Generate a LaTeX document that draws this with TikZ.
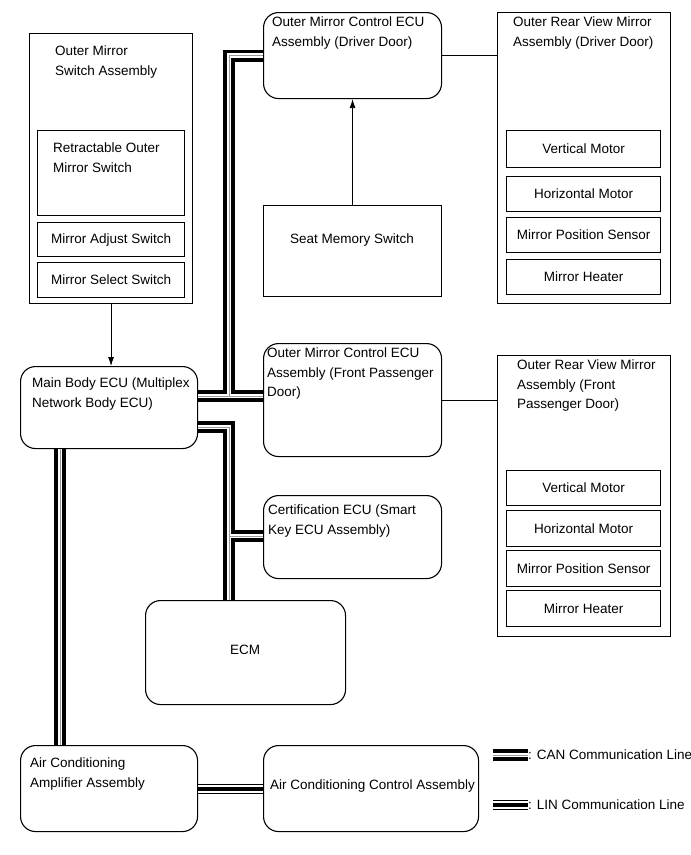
\documentclass[tikz,border=0pt]{standalone}
\usepackage{fontspec}
\setmainfont{Liberation Sans}
\usetikzlibrary{positioning,calc,arrows.meta}
\definecolor{Wire}{HTML}{000000}
\definecolor{Gap}{HTML}{FFFFFF}
\definecolor{Seam}{HTML}{9A9A9A}

\begin{document}
\begin{tikzpicture}[x=1pt,y=-1pt,
    box/.style={draw=Wire,line width=1.1pt,inner sep=0pt,anchor=north west},
    ecu/.style={box,rounded corners=15pt},
    txt/.style={inner sep=0pt,anchor=north west,align=left,font=\fontsize{13.5}{19.5}\selectfont},
    mid/.style={txt,anchor=center,align=center},
    can/.style={line width=12pt,Wire,postaction={draw,Gap,line width=4.2pt},postaction={draw,Seam,line width=.5pt}},
    lin/.style={line width=10pt,Wire,postaction={draw,Gap,line width=8pt},postaction={draw,Wire,line width=4pt}},
    sig/.style={line width=.8pt,Wire},
    tip/.style={-{Latex[length=9pt,width=6pt]}}]
  \useasboundingbox (0,0) rectangle (691,855);

  % switch assembly
  \node[box,minimum width=163,minimum height=270] (sw) at (29,33) {};
  \node[txt] (swt) at (55,46) {Outer Mirror\\Switch Assembly};
  \node[box,minimum width=147,minimum height=85] (ret) at (37,130) {};
  \node[txt] (rett) at (53,143) {Retractable Outer\\Mirror Switch};
  \node[box,minimum width=147,minimum height=34] (adj) at (37,222) {};
  \node[mid] (adjt) at (adj.center) {Mirror Adjust Switch};
  \node[box,minimum width=147,minimum height=35] (sel) at (37,262) {};
  \node[mid] (selt) at (sel.center) {Mirror Select Switch};

  % body ECU and the ECUs on the bus
  \node[ecu,minimum width=177,minimum height=82] (mb) at (20,366) {};
  \node[txt] (mbt) at (32,378) {Main Body ECU (Multiplex\\Network Body ECU)};
  \node[ecu,minimum width=178,minimum height=86] (drv) at (263,12) {};
  \node[txt] (drvt) at (272,17) {Outer Mirror Control ECU\\Assembly (Driver Door)};
  \node[box,minimum width=178,minimum height=91] (seat) at (263,205) {};
  \node[mid] (seatt) at (352,240) {Seat Memory Switch};
  \node[ecu,minimum width=178,minimum height=113] (pdr) at (263,343) {};
  \node[txt] (pdrt) at (267,348) {Outer Mirror Control ECU\\Assembly (Front Passenger\\Door)};
  \node[ecu,minimum width=178,minimum height=83] (cert) at (263,495) {};
  \node[txt] (certt) at (268,505) {Certification ECU (Smart\\Key ECU Assembly)};
  \node[ecu,minimum width=200,minimum height=104] (ecm) at (145,600) {};
  \node[mid] (ecmt) at (245,650) {ECM};
  \node[ecu,minimum width=177,minimum height=86] (acamp) at (20,745) {};
  \node[txt] (acampt) at (30,758) {Air Conditioning\\Amplifier Assembly};
  \node[ecu,minimum width=215,minimum height=86] (acctl) at (263,745) {};
  \node[txt] (acctlt) at (270,780) {Air Conditioning Control Assembly};

  % rear view mirrors
  \node[box,minimum width=173,minimum height=291] (rvd) at (497,12) {};
  \node[txt] (rvdt) at (513,17) {Outer Rear View Mirror\\Assembly (Driver Door)};
  \node[box,minimum width=173,minimum height=281] (rvp) at (497,355) {};
  \node[txt] (rvpt) at (517,360) {Outer Rear View Mirror\\Assembly (Front\\Passenger Door)};
  \foreach \n/\y/\h/\part in {vmd/130/37/Vertical Motor,hmd/176/35/Horizontal Motor,
      psd/217/35/Mirror Position Sensor,mhd/259/35/Mirror Heater,
      vmp/470/35/Vertical Motor,hmp/510/36/Horizontal Motor,
      psp/550/36/Mirror Position Sensor,mhp/590/36/Mirror Heater}{
    \node[box,minimum width=154,minimum height=\h] (\n) at (506,\y) {};
    \node[mid] (\n t) at (\n.center) {\part};
  }

  % communication lines
  \coordinate (canup) at (229,396);
  \coordinate (canlow) at (229,427);
  \coordinate (certj) at (229,536);
  \coordinate (acx) at (60,0);
  \draw[can] (canup -| mb.east) -- (canup -| pdr.west) (canup) |- (drv.west);
  \draw[can] (canlow -| mb.east) -- (canlow) -- (canlow |- ecm.north) (certj) -- (certj -| cert.west);
  \draw[can] (acx |- mb.south) -- (acx |- acamp.north);
  \draw[lin] (acamp.east) -- (acctl.west);

  % plain wires
  \draw[sig] (drv.east) -- (drv.east -| rvd.west);
  \draw[sig] (pdr.east) -- (pdr.east -| rvp.west);
  \draw[sig,tip] (sw.south) -- (sw.south |- mb.north);
  \draw[sig,tip] (seat.north) -- (drv.south);

  % legend
  \coordinate (canleg) at (493,755);
  \coordinate (linleg) at (493,805);
  \draw[can] (canleg) -- ++(35,0) coordinate (canlege);
  \node[txt,anchor=west] (cantxt) at (canlege) {: CAN Communication Line};
  \draw[lin] (linleg) -- ++(35,0) coordinate (linlege);
  \node[txt,anchor=west] (lintxt) at (linlege) {: LIN Communication Line};
\end{tikzpicture}
\end{document}
